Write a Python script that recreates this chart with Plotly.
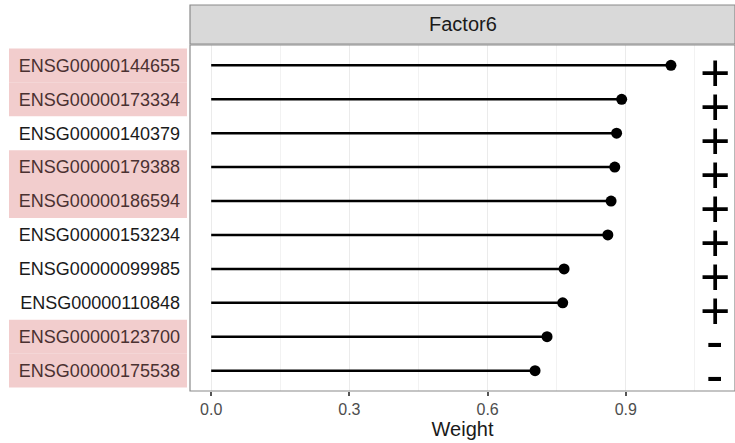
import plotly.graph_objects as go

genes = ["ENSG00000144655", "ENSG00000173334", "ENSG00000140379", "ENSG00000179388",
         "ENSG00000186594", "ENSG00000153234", "ENSG00000099985", "ENSG00000110848",
         "ENSG00000123700", "ENSG00000175538"]
weights = [0.998, 0.891, 0.880, 0.876, 0.868, 0.861, 0.766, 0.763, 0.729, 0.703]
signs = ["+", "+", "+", "+", "+", "+", "+", "+", "-", "-"]
highlighted = [True, True, False, True, True, False, False, False, True, True]
factor_name = "Factor6"
x_ticks = [0.0, 0.3, 0.6, 0.9]

n = len(genes)
ypos = list(range(n))  # row 0 at top (axis reversed)
Y0, Y1 = -0.6, n - 1 + 0.6
X0, X1 = -0.046, 1.137

def ypaper(v):
    return (Y1 - v) / (Y1 - Y0)

fig = go.Figure()

# lollipop stems
lx, ly = [], []
for w, y in zip(weights, ypos):
    lx += [0, w, None]
    ly += [y, y, None]
fig.add_trace(go.Scatter(x=lx, y=ly, mode="lines",
                         line=dict(color="black", width=2.5),
                         hoverinfo="skip", showlegend=False))
fig.add_trace(go.Scatter(x=weights, y=ypos, mode="markers",
                         marker=dict(color="black", size=11),
                         showlegend=False))

shapes = []
# highlight boxes behind labels
lx0 = (9 - 190) / 545
lx1 = (187 - 190) / 545
for i, h in enumerate(highlighted):
    if h:
        shapes.append(dict(type="rect", xref="paper", yref="paper",
                           x0=lx0, x1=lx1, y0=ypaper(i + 0.5), y1=ypaper(i - 0.5),
                           fillcolor="#f2cdcd", line=dict(width=0), layer="below"))
# panel border
shapes.append(dict(type="rect", xref="paper", yref="paper", x0=0, x1=1, y0=0, y1=1,
                   line=dict(color="#8a8a8a", width=1.2), fillcolor="rgba(0,0,0,0)"))
# strip
shapes.append(dict(type="rect", xref="paper", yref="paper", x0=0, x1=1.0,
                   y0=1 + 1 / 346, y1=1 + 40 / 346,
                   fillcolor="#d9d9d9", line=dict(color="#8a8a8a", width=1.2)))

annotations = [dict(text=factor_name, xref="paper", yref="paper", x=0.5, y=1 + 20.5 / 346,
                    showarrow=False, font=dict(size=20, color="#1a1a1a"),
                    xanchor="center", yanchor="middle")]
for i, s in enumerate(signs):
    annotations.append(dict(text=s, x=1.093, y=ypos[i],
                            xref="x", yref="y", showarrow=False,
                            font=dict(size=52, color="black", family="Liberation Sans"),
                            height=30, valign="middle",
                            yshift=-8 if s == "+" else -4,
                            xanchor="center", yanchor="middle"))

ticktext = []
for g, h in zip(genes, highlighted):
    col = "#4a3131" if h else "#1a1a1a"
    ticktext.append(f"<span style='color:{col}'>{g}</span>")

fig.update_layout(
    width=735, height=443,
    margin=dict(l=190, r=0, t=45, b=52),
    plot_bgcolor="white", paper_bgcolor="white",
    font=dict(family="Liberation Sans", color="#1a1a1a"),
    shapes=shapes, annotations=annotations,
    xaxis=dict(range=[X0, X1], tickvals=x_ticks, ticktext=[f"{t:.1f}" for t in x_ticks],
               showgrid=True, gridcolor="#ebebeb", gridwidth=1.2,
               minor=dict(dtick=0.15, tick0=0.15, showgrid=True, gridcolor="#f2f2f2", gridwidth=0.8),
               ticks="outside", ticklen=4, tickcolor="#555555", tickwidth=1.5,
               tickfont=dict(size=16, color="#4d4d4d"),
               title=dict(text="Weight", font=dict(size=20, color="#1a1a1a"), standoff=4),
               zeroline=False, showline=False),
    yaxis=dict(range=[Y1, Y0], tickvals=ypos, ticktext=ticktext,
               showgrid=False, zeroline=False, ticks="", ticklabelstandoff=9,
               tickfont=dict(size=18)),
)

fig.write_html("out.html")
